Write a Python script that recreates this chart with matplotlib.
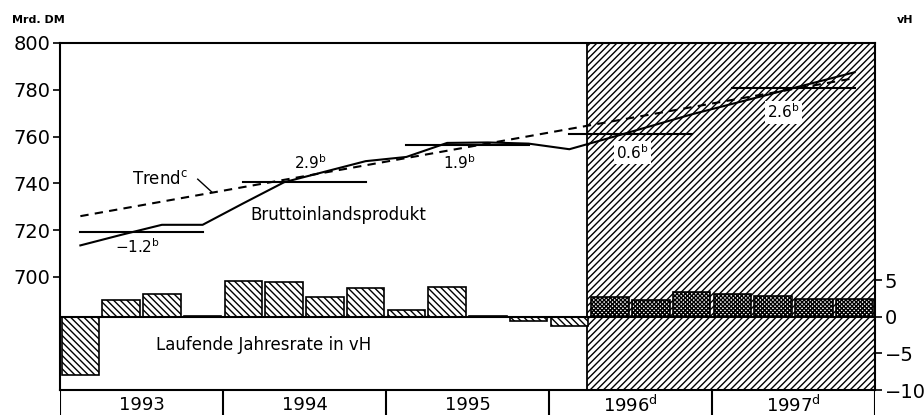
import numpy as np
import matplotlib.pyplot as plt

plt.rcParams['font.family'] = ['DejaVu Sans']
plt.rcParams['hatch.color'] = 'black'
plt.rcParams['hatch.linewidth'] = 1.0

# Bruttoinlandsprodukt, Quartale 1993 Q1 .. 1997 Q4 (Mrd. DM)
bip = [713.5, 718.0, 722.3, 722.3,
       731.5, 740.5, 745.0, 749.5,
       751.3, 757.3, 757.5, 757.0,
       754.6, 759.5, 764.5, 769.5,
       774.0, 778.5, 783.0, 787.5]

# Laufende Jahresrate in vH
rate = [-8.0, 2.3, 3.1, 0.1,
        4.9, 4.8, 2.7, 3.9,
        1.0, 4.1, 0.15, -0.6,
        -1.3, 2.7, 2.3, 3.4,
        3.2, 2.9, 2.5, 2.4]

years = ['1993', '1994', '1995', '1996$^\\mathrm{d}$', '1997$^\\mathrm{d}$']
year_avg = [719.2, 740.7, 756.6, 761.3, 780.8]
avg_labels = ['−1.2', '2.9', '1.9', '0.6', '2.6']
trend_ends = [726.0, 785.0]
n_hist = 13  # 1993 Q1 .. 1996 Q1 tatsaechlich, danach Prognose

x = np.arange(len(bip)) + 0.5

fig = plt.figure(figsize=(9.24, 4.15), dpi=100)
ax = fig.add_axes([60 / 924, 25 / 415, 815 / 924, 347 / 415])
ax2 = ax.twinx()

# Prognosezeitraum schraffiert
ax.axvspan(n_hist - 0.07, 20, facecolor='white', edgecolor='black', hatch='/////',
           lw=1.3, zorder=0)

# BIP, Trend, Jahresdurchschnitte
ax.plot(x, bip, color='black', lw=1.5, zorder=3)
ax.plot([x[0], x[-1]], trend_ends, color='black', lw=1.5, ls=(0, (4, 3)), zorder=3)
for i, val in enumerate(year_avg):
    ax.plot([4 * i + 0.5, 4 * i + 3.5], [val, val], color='black', lw=1.5, zorder=3)

label_pos = [(1.9, 712.8), (6.15, 748.7), (9.8, 748.7), (14.05, 753.0), (17.75, 770.5)]
for i, (lx, ly) in enumerate(label_pos):
    bbox = dict(facecolor='white', edgecolor='none', pad=1.5) if i >= 3 else None
    ax.text(lx, ly, avg_labels[i] + '$^\\mathrm{b}$', ha='center', va='center',
            fontsize=11, bbox=bbox, zorder=4)

ax.text(2.45, 742.0, 'Trend$^\\mathrm{c}$', ha='center', va='center', fontsize=12)
ax.plot([3.38, 3.72], [741.8, 736.4], color='black', lw=1.0)
ax.text(6.82, 726.5, 'Bruttoinlandsprodukt', ha='center', va='center', fontsize=12)

ax.set_xlim(0, 20)
ax.set_ylim(651.7, 800)
ax.set_yticks([700, 720, 740, 760, 780, 800])
ax.set_xticks([])
ax.tick_params(axis='y', direction='out', length=5, width=1.2, labelsize=14, pad=2)
for s in ax.spines.values():
    s.set_linewidth(1.5)

# Jahresrate als Saeulen
hatches = ['\\\\\\\\\\'] * n_hist + ['xxxxxxxx'] * (len(rate) - n_hist)
ax2.bar(x, rate, width=0.92, color='white', edgecolor='black', lw=1.2,
        hatch=hatches, zorder=3)
ax2.axhline(0, color='black', lw=1.5, zorder=4)
ax2.text(5.0, -3.8, 'Laufende Jahresrate in vH', ha='center', va='center', fontsize=12)
ax2.set_ylim(-10, 37.5)
ax2.set_yticks([-10, -5, 0, 5])
ax2.set_yticklabels(['−10', '−5', '0', '5'])
ax2.tick_params(axis='y', direction='out', length=5, width=1.2, labelsize=14, pad=2)
for s in ax2.spines.values():
    s.set_visible(False)

fig.text(12 / 924, 1 - 20 / 415, 'Mrd. DM', fontsize=8, fontweight='bold', va='center')
fig.text(897 / 924, 1 - 20 / 415, 'vH', fontsize=8, fontweight='bold', va='center')

# Jahresleiste unten
axy = fig.add_axes([60 / 924, 0, 815 / 924, 25 / 415])
axy.set_xlim(0, 20)
axy.set_ylim(0, 1)
axy.axis('off')
for b in range(0, 21, 4):
    axy.plot([b, b], [0, 1], color='black', lw=1.5)
for i, y in enumerate(years):
    axy.text(4 * i + 2, 0.4, y, ha='center', va='center', fontsize=13)

fig.savefig('out.png', dpi=100)
